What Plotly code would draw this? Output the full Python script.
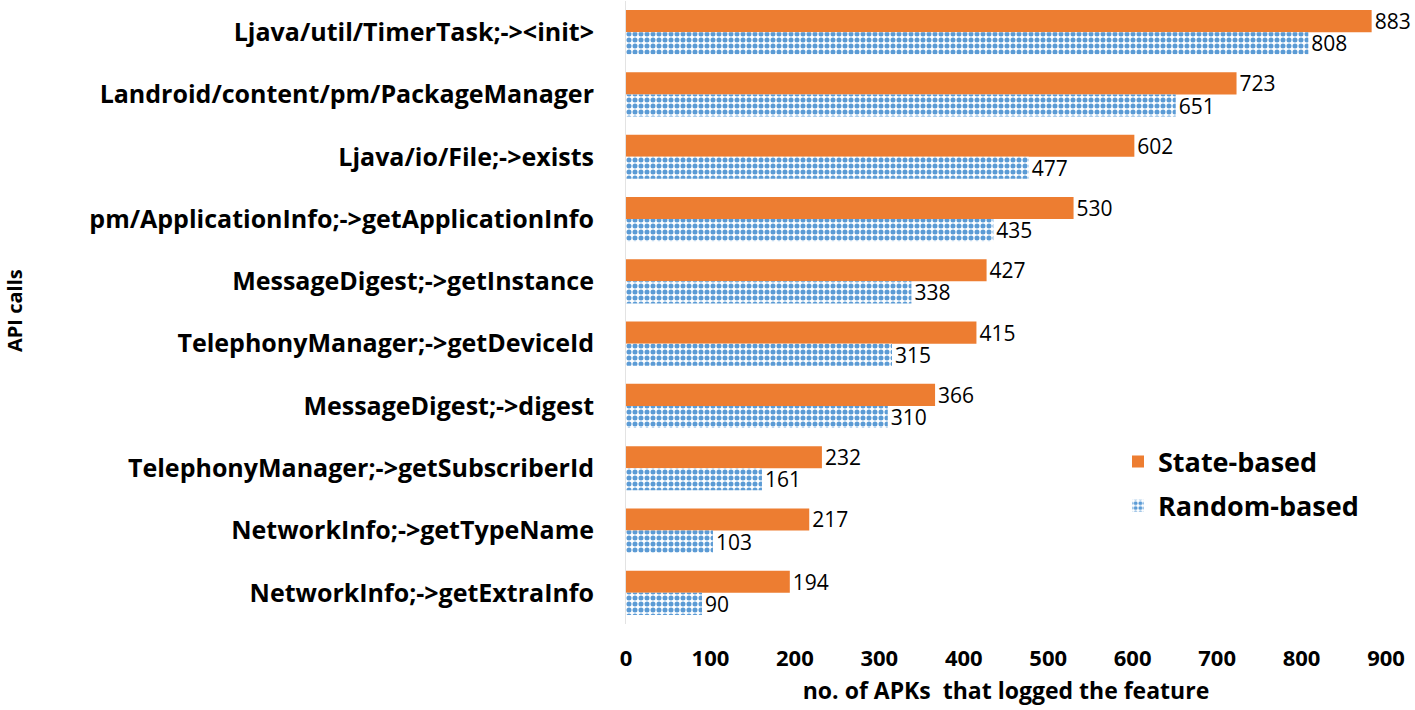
import plotly.graph_objects as go

categories = [
    "Ljava/util/TimerTask;-><init>",
    "Landroid/content/pm/PackageManager",
    "Ljava/io/File;->exists",
    "pm/ApplicationInfo;->getApplicationInfo",
    "MessageDigest;->getInstance",
    "TelephonyManager;->getDeviceId",
    "MessageDigest;->digest",
    "TelephonyManager;->getSubscriberId",
    "NetworkInfo;->getTypeName",
    "NetworkInfo;->getExtraInfo",
]
state_based = [883, 723, 602, 530, 427, 415, 366, 232, 217, 194]
random_based = [808, 651, 477, 435, 338, 315, 310, 161, 103, 90]
x_ticks = [0, 100, 200, 300, 400, 500, 600, 700, 800, 900]

FONT = "Open Sans"
L, R, T, B = 626, 29, 1, 86
W, H = 1415, 710
plot_w = W - L - R
plot_h = H - T - B

fig = go.Figure()
fig.add_trace(go.Bar(
    y=categories, x=state_based, orientation="h", name="State-based",
    legendgroup="s",
    marker=dict(color="#ED7D31", line=dict(width=0)),
    text=[str(v) for v in state_based], textposition="outside",
    constraintext="none",
    textfont=dict(size=21, color="black", family=FONT), cliponaxis=False,
))
fig.add_trace(go.Bar(
    y=categories, x=random_based, orientation="h", name="Random-based",
    legendgroup="r",
    marker=dict(color="white", line=dict(width=0),
                pattern=dict(shape=".", fgcolor="#5B9BD5", bgcolor="white",
                             size=6, solidity=0.55, fillmode="replace")),
    text=[str(v) for v in random_based], textposition="outside",
    constraintext="none",
    textfont=dict(size=21, color="black", family=FONT), cliponaxis=False,
))

fig.update_layout(
    width=W, height=H,
    margin=dict(l=L, r=R, t=T, b=B),
    paper_bgcolor="white", plot_bgcolor="white",
    barmode="group", bargap=0.29, bargroupgap=0,
    font=dict(family=FONT, color="black"),
    showlegend=True,
    legend=dict(x=(1118 - L) / plot_w, y=(H - B - 484) / plot_h,
                xanchor="left", yanchor="middle",
                font=dict(size=27, family=FONT, weight="bold"),
                itemwidth=30, tracegroupgap=6, bgcolor="rgba(0,0,0,0)"),
    xaxis=dict(range=[0, 900], tickvals=x_ticks, showgrid=False, zeroline=False,
               showline=False, tickfont=dict(size=22, weight="bold"),
               ticks="", ticklabelstandoff=19, automargin=False,
               title=dict(text="no. of APKs  that logged the feature",
                          font=dict(size=23, weight="bold"), standoff=11)),
    yaxis=dict(autorange="reversed", showgrid=False, zeroline=False,
               showline=True, linecolor="#E3E3E3", linewidth=1,
               tickfont=dict(size=25, weight="bold"), ticks="",
               ticklabelstandoff=26, automargin=False),
)
fig.add_annotation(text="<b>API calls</b>", xref="paper", yref="paper",
                   x=(14 - L) / plot_w, y=(H - B - 311) / plot_h,
                   xanchor="center", yanchor="middle", textangle=-90,
                   showarrow=False, font=dict(size=20, family=FONT, color="black"))

fig.write_html("out.html", config={"displayModeBar": False},
               post_script="document.body.style.margin='0';")
